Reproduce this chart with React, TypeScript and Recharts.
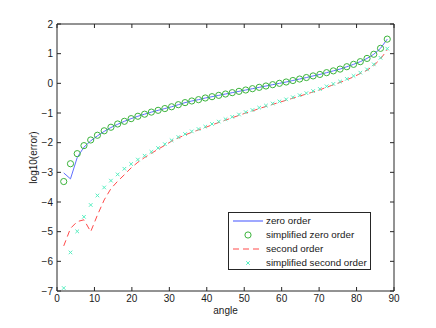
import React from 'react';
import { ComposedChart, Line, XAxis, YAxis, Legend } from 'recharts';

const angles = [1.8, 3.6, 5.4, 7.2, 9, 10.8, 12.6, 14.4, 16.2, 18, 19.8, 21.6, 23.4, 25.2, 27, 28.8, 30.6, 32.4, 34.2, 36, 37.8, 39.6, 41.4, 43.2, 45, 46.8, 48.6, 50.4, 52.2, 54, 55.8, 57.6, 59.4, 61.2, 63, 64.8, 66.6, 68.4, 70.2, 72, 73.8, 75.6, 77.4, 79.2, 81, 82.8, 84.6, 86.4, 88.2];

const zeroOrder = [-3.02, -3.22, -2.5, -2.15, -1.94, -1.77, -1.62, -1.49, -1.38, -1.28, -1.19, -1.11, -1.04, -0.97, -0.91, -0.85, -0.79, -0.72, -0.65, -0.595, -0.55, -0.494, -0.45, -0.405, -0.36, -0.314, -0.27, -0.225, -0.18, -0.135, -0.09, -0.045, 0.0, 0.045, 0.095, 0.145, 0.195, 0.25, 0.3, 0.36, 0.42, 0.48, 0.56, 0.64, 0.73, 0.84, 0.98, 1.18, 1.49];

const simplifiedZeroOrder = [-3.31, -2.71, -2.37, -2.1, -1.91, -1.75, -1.6, -1.48, -1.37, -1.28, -1.19, -1.11, -1.04, -0.97, -0.91, -0.85, -0.79, -0.72, -0.65, -0.595, -0.55, -0.494, -0.45, -0.405, -0.36, -0.314, -0.27, -0.225, -0.18, -0.135, -0.09, -0.045, 0.0, 0.045, 0.095, 0.145, 0.195, 0.25, 0.3, 0.36, 0.42, 0.48, 0.56, 0.64, 0.73, 0.84, 0.98, 1.18, 1.49];

const secondOrder = [-5.48, -4.89, -4.66, -4.6, -5.0, -4.44, -3.93, -3.55, -3.3, -3.08, -2.85, -2.66, -2.5, -2.36, -2.22, -2.09, -1.95, -1.84, -1.74, -1.65, -1.57, -1.49, -1.4, -1.32, -1.24, -1.16, -1.08, -1.0, -0.93, -0.85, -0.78, -0.71, -0.64, -0.57, -0.5, -0.43, -0.36, -0.29, -0.22, -0.13, -0.05, 0.03, 0.12, 0.22, 0.33, 0.44, 0.6, 0.82, 1.13];

const simplifiedSecondOrder = [-6.9, -5.7, -4.99, -4.5, -4.1, -3.78, -3.51, -3.28, -3.07, -2.88, -2.72, -2.57, -2.44, -2.31, -2.18, -2.05, -1.92, -1.81, -1.71, -1.62, -1.54, -1.46, -1.37, -1.29, -1.21, -1.13, -1.05, -0.97, -0.9, -0.82, -0.75, -0.68, -0.61, -0.54, -0.47, -0.4, -0.33, -0.26, -0.19, -0.1, -0.02, 0.06, 0.15, 0.25, 0.36, 0.47, 0.64, 0.86, 1.17];

const xTicks = [0, 10, 20, 30, 40, 50, 60, 70, 80, 90];
const yTicks = [-7, -6, -5, -4, -3, -2, -1, 0, 1, 2];

const seriesNames = ['zero order', 'simplified zero order', 'second order', 'simplified second order'];

const COLORS = {
  zero: '#5f6fff',
  szero: '#3cb43c',
  second: '#ff4a4a',
  ssecond: '#55eec0',
};
const AXIS = '#262626';
const FONT = '"Liberation Sans", Arial, Helvetica, sans-serif';

const data = angles.map((a, i) => ({
  angle: a,
  zero: zeroOrder[i],
  szero: simplifiedZeroOrder[i],
  second: secondOrder[i],
  ssecond: simplifiedSecondOrder[i],
}));

const CircleDot = (props: any) => {
  const { cx, cy, index } = props;
  if (cx == null || cy == null) return <g key={`c${index}`} />;
  return <circle key={`c${index}`} cx={cx} cy={cy} r={3.1} fill="none" stroke={COLORS.szero} strokeWidth={1} />;
};

const CrossDot = (props: any) => {
  const { cx, cy, index } = props;
  if (cx == null || cy == null) return <g key={`x${index}`} />;
  const s = 1.8;
  return (
    <path
      key={`x${index}`}
      d={`M${cx - s},${cy - s}L${cx + s},${cy + s}M${cx - s},${cy + s}L${cx + s},${cy - s}`}
      stroke={COLORS.ssecond}
      strokeWidth={1}
      fill="none"
    />
  );
};

const minus = (v: number) => String(v).replace('-', '\u2212');

const legendItems = [
  { label: seriesNames[0], kind: 'line', color: COLORS.zero },
  { label: seriesNames[1], kind: 'circle', color: COLORS.szero },
  { label: seriesNames[2], kind: 'dash', color: COLORS.second },
  { label: seriesNames[3], kind: 'cross', color: COLORS.ssecond },
];

const renderLegend = () => (
  <div
    style={{
      boxSizing: 'border-box',
      width: 143,
      height: 58,
      border: `1px solid ${AXIS}`,
      background: '#fff',
      paddingTop: 1,
      fontSize: 9.8,
      color: '#1a1a1a',
      fontFamily: FONT,
    }}
  >
    {legendItems.map((it) => (
      <div key={it.label} style={{ display: 'flex', alignItems: 'center', height: 13.9 }}>
        <svg width={31} height={13.9} style={{ marginLeft: 4, display: 'block' }}>
          {it.kind === 'line' && <line x1={0} x2={30} y1={7} y2={7} stroke={it.color} strokeWidth={1.2} />}
          {it.kind === 'dash' && (
            <line x1={0} x2={30} y1={7} y2={7} stroke={it.color} strokeWidth={1} strokeDasharray="6 4" />
          )}
          {it.kind === 'circle' && <circle cx={15} cy={7} r={3.1} fill="none" stroke={it.color} strokeWidth={1} />}
          {it.kind === 'cross' && (
            <path d="M13.2,5.2L16.8,8.8M13.2,8.8L16.8,5.2" stroke={it.color} strokeWidth={1} fill="none" />
          )}
        </svg>
        <span style={{ marginLeft: 2, whiteSpace: 'nowrap', lineHeight: '13.9px' }}>{it.label}</span>
      </div>
    ))}
  </div>
);

const YLabel = (props: any) => {
  const vb = props.viewBox || { x: 0, y: 24, width: 57, height: 267 };
  const x = vb.x + vb.width - 24;
  const y = vb.y + vb.height / 2;
  return (
    <text
      x={x}
      y={y}
      transform={`rotate(-90 ${x} ${y})`}
      textAnchor="middle"
      dominantBaseline="central"
      fontSize={10}
      fill="#1a1a1a"
    >
      log10(error)
    </text>
  );
};

export default function App() {
  const tickStyle = { fontSize: 10, fill: '#1a1a1a' };
  return (
    <div style={{ position: 'absolute', left: 0, top: 0, width: 436, height: 328, background: '#fff', fontFamily: FONT }}>
      <ComposedChart width={436} height={328} data={data} margin={{ top: 0, right: 0, bottom: 0, left: 0 }}>
        <XAxis
          xAxisId="b"
          dataKey="angle"
          type="number"
          domain={[0, 90]}
          ticks={xTicks}
          interval={0}
          allowDataOverflow
          height={37}
          tickSize={-4}
          tickMargin={8}
          axisLine={{ stroke: AXIS }}
          tickLine={{ stroke: AXIS }}
          tick={tickStyle}
          label={{ value: 'angle', position: 'insideTop', offset: 16, fontSize: 10, fill: '#1a1a1a' }}
        />
        <XAxis
          xAxisId="t"
          orientation="top"
          dataKey="angle"
          type="number"
          domain={[0, 90]}
          ticks={xTicks}
          interval={0}
          allowDataOverflow
          height={24}
          tickSize={-4}
          tickFormatter={() => ''}
          axisLine={{ stroke: AXIS }}
          tickLine={{ stroke: AXIS }}
        />
        <YAxis
          yAxisId="l"
          type="number"
          domain={[-7, 2]}
          ticks={yTicks}
          interval={0}
          allowDataOverflow
          width={57}
          tickSize={-4}
          tickMargin={8}
          tickFormatter={minus}
          axisLine={{ stroke: AXIS }}
          tickLine={{ stroke: AXIS }}
          tick={tickStyle}
          label={{ content: YLabel }}
        />
        <YAxis
          yAxisId="r"
          orientation="right"
          type="number"
          domain={[-7, 2]}
          ticks={yTicks}
          interval={0}
          allowDataOverflow
          width={42}
          tickSize={-4}
          tickFormatter={() => ''}
          axisLine={{ stroke: AXIS }}
          tickLine={{ stroke: AXIS }}
        />
        <Line
          xAxisId="b"
          yAxisId="l"
          dataKey="zero"
          name={seriesNames[0]}
          type="linear"
          stroke={COLORS.zero}
          strokeWidth={1}
          dot={false}
          activeDot={false}
          isAnimationActive={false}
        />
        <Line
          xAxisId="b"
          yAxisId="l"
          dataKey="szero"
          name={seriesNames[1]}
          type="linear"
          stroke="none"
          dot={CircleDot}
          activeDot={false}
          isAnimationActive={false}
        />
        <Line
          xAxisId="b"
          yAxisId="l"
          dataKey="second"
          name={seriesNames[2]}
          type="linear"
          stroke={COLORS.second}
          strokeWidth={1}
          strokeDasharray="6 4"
          dot={false}
          activeDot={false}
          isAnimationActive={false}
        />
        <Line
          xAxisId="b"
          yAxisId="l"
          dataKey="ssecond"
          name={seriesNames[3]}
          type="linear"
          stroke="none"
          dot={CrossDot}
          activeDot={false}
          isAnimationActive={false}
        />
        <Legend
          layout="vertical"
          align="center"
          verticalAlign="middle"
          content={renderLegend}
          wrapperStyle={{ left: 228, top: 212, width: 'auto', margin: 0 }}
        />
      </ComposedChart>
    </div>
  );
}
